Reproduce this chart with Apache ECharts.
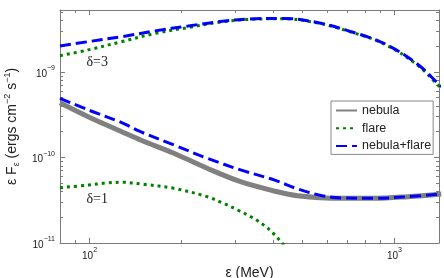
<!DOCTYPE html>
<html><head><meta charset="utf-8">
<script src="https://cdn.jsdelivr.net/npm/echarts@6/dist/echarts.min.js"></script>
<style>html,body{margin:0;padding:0;background:#fff}#c{width:444px;height:278px}</style>
</head><body><div id="c"></div>
<script>
// ---- data (energy in MeV, flux in ergs cm^-2 s^-1) ----
const nebulaE = [80, 99, 128, 147, 189, 243, 313, 403, 481, 668, 858, 1107, 1424];
const nebulaF = [4.37e-10, 3.0e-10, 1.99e-10, 1.6e-10, 1.12e-10, 7.48e-11, 5.21e-11, 4.06e-11, 3.57e-11, 3.33e-11, 3.33e-11, 3.48e-11, 3.74e-11];

const flare1E = [80, 99, 113, 128, 150, 189, 243, 275, 306, 338, 373, 402, 428, 455];
const flare1F = [4.43e-11, 4.76e-11, 5.03e-11, 5.13e-11, 4.86e-11, 4.36e-11, 3.48e-11, 2.91e-11, 2.43e-11, 2.03e-11, 1.62e-11, 1.28e-11, 1.0e-11, 7.8e-12];

const total1E = [80, 99, 128, 147, 189, 243, 313, 403, 481, 574, 668, 858, 1107, 1424];
const total1F = [4.9e-10, 3.6e-10, 2.54e-10, 2.0e-10, 1.4e-10, 9.8e-11, 7.15e-11, 5.46e-11, 4.29e-11, 3.6e-11, 3.36e-11, 3.33e-11, 3.48e-11, 3.74e-11];

const flare3E = [80, 99, 128, 164, 211, 263, 338, 433, 557, 716, 926, 1188, 1396, 1440];
const flare3F = [1.55e-9, 1.81e-9, 2.27e-9, 2.82e-9, 3.31e-9, 3.79e-9, 4.13e-9, 4.19e-9, 3.75e-9, 2.95e-9, 2.12e-9, 1.21e-9, 6.9e-10, 6.3e-10];

const total3E = [80, 99, 128, 164, 211, 263, 338, 433, 557, 716, 926, 1188, 1396, 1440];
const total3F = [2.01e-9, 2.26e-9, 2.59e-9, 3.02e-9, 3.45e-9, 3.85e-9, 4.17e-9, 4.23e-9, 3.79e-9, 2.98e-9, 2.15e-9, 1.24e-9, 7.24e-10, 6.6e-10];

const xMajorTicks = [100, 1000];
const xMinorTicks = [90, 200, 300, 400, 500, 600, 700, 800, 900];
const yMajorTicks = [1e-11, 1e-10, 1e-9];
const yMinorTicks = [2e-11, 3e-11, 4e-11, 5e-11, 6e-11, 7e-11, 8e-11, 9e-11,
                     2e-10, 3e-10, 4e-10, 5e-10, 6e-10, 7e-10, 8e-10, 9e-10,
                     2e-9, 3e-9, 4e-9, 5e-9];
const annotations = [{ name: 'δ=3', coord: [106, 1.31e-9] }, { name: 'δ=1', coord: [106, 3.27e-11] }];

const X_MIN = 80, X_MAX = 1400, Y_MIN = 1e-11, Y_MAX = 5.3e-9;
const AXIS_COLOR = '#7a7a7a';
const TEXT_COLOR = '#222';
const FONT = '"Liberation Sans", Arial, sans-serif';

function zip(a, b) { return a.map((v, i) => [v, b[i]]); }
function sup(v) {
  const e = Math.round(Math.log10(v));
  return '{b|10}{s|' + (e < 0 ? '\u2212' + (-e) : e) + '}';
}
const richLabel = {
  b: { fontSize: 10, fontFamily: FONT, color: TEXT_COLOR, verticalAlign: 'bottom', lineHeight: 14 },
  s: { fontSize: 7, fontFamily: FONT, color: TEXT_COLOR, verticalAlign: 'top', lineHeight: 14 }
};

function axis(kind, position, ticks, len, opts) {
  const isX = kind === 'x';
  return Object.assign({
    type: 'log', logBase: 10, position: position,
    min: isX ? X_MIN : Y_MIN, max: isX ? X_MAX : Y_MAX,
    axisLine: { show: opts.line, onZero: false, lineStyle: { color: AXIS_COLOR, width: 1 } },
    axisTick: { show: true, inside: true, length: len, customValues: ticks, lineStyle: { color: AXIS_COLOR, width: 1 } },
    axisLabel: opts.label ? { show: true, customValues: ticks, formatter: sup, rich: richLabel, margin: isX ? 4 : 5 } : { show: false, customValues: ticks },
    splitLine: { show: false }, minorTick: { show: false }, minorSplitLine: { show: false }
  }, opts.extra || {});
}

const lineBase = { type: 'line', showSymbol: false, symbol: 'none', smooth: 0.35, animation: false, clip: true };

const option = {
  animation: false,
  backgroundColor: '#fff',
  grid: { left: 60, right: 5, top: 10, bottom: 35, containLabel: false, outerBoundsMode: 'none' },
  xAxis: [
    axis('x', 'bottom', xMajorTicks, 5, { line: true, label: true, extra: {
      name: 'ε (MeV)', nameLocation: 'middle', nameGap: 19,
      nameTextStyle: { fontSize: 14, fontFamily: FONT, color: TEXT_COLOR } } }),
    axis('x', 'bottom', xMinorTicks, 3, { line: false, label: false }),
    axis('x', 'top', xMajorTicks, 5, { line: true, label: false }),
    axis('x', 'top', xMinorTicks, 3, { line: false, label: false })
  ],
  yAxis: [
    axis('y', 'left', yMajorTicks, 5, { line: true, label: true, extra: {
      name: 'ε F{sub|ε} (ergs cm{sup|\u22122} s{sup|\u22121})', nameLocation: 'middle', nameGap: 33, nameRotate: 90,
      nameTextStyle: { fontSize: 14, fontFamily: FONT, color: TEXT_COLOR, rich: {
        sub: { fontSize: 9, fontFamily: FONT, color: TEXT_COLOR, verticalAlign: 'bottom', lineHeight: 18 },
        sup: { fontSize: 9, fontFamily: FONT, color: TEXT_COLOR, verticalAlign: 'top', lineHeight: 18 } } } } }),
    axis('y', 'left', yMinorTicks, 3, { line: false, label: false }),
    axis('y', 'right', yMajorTicks, 5, { line: true, label: false }),
    axis('y', 'right', yMinorTicks, 3, { line: false, label: false })
  ],
  legend: {
    data: ['nebula', 'flare', 'nebula+flare'],
    orient: 'vertical', left: 331, top: 101,
    itemWidth: 21, itemHeight: 12, itemGap: 4.7,
    padding: [3, 2, 2, 4],
    itemStyle: { opacity: 0, borderWidth: 0 },
    backgroundColor: '#fff', borderColor: '#888', borderWidth: 1, borderRadius: 0,
    textStyle: { fontSize: 12.5, fontFamily: FONT, color: TEXT_COLOR }
  },
  series: [
    Object.assign({}, lineBase, {
      name: 'nebula', data: zip(nebulaE, nebulaF),
      lineStyle: { color: '#808080', width: 5 }, itemStyle: { color: '#808080' },
      markPoint: {
        symbol: 'circle', symbolSize: 0, animation: false,
        label: { show: true, position: 'inside', formatter: '{b}', fontSize: 14, fontFamily: '"Liberation Serif", "DejaVu Serif", serif', color: TEXT_COLOR },
        data: annotations.map(a => ({ name: a.name, coord: a.coord }))
      }
    }),
    Object.assign({}, lineBase, {
      name: 'flare', data: zip(flare1E, flare1F),
      lineStyle: { color: '#008000', width: 3, type: [3, 4] }, itemStyle: { color: '#008000' }
    }),
    Object.assign({}, lineBase, {
      name: 'flare', data: zip(flare3E, flare3F),
      lineStyle: { color: '#008000', width: 3, type: [3, 4] }, itemStyle: { color: '#008000' }
    }),
    Object.assign({}, lineBase, {
      name: 'nebula+flare', data: zip(total1E, total1F),
      lineStyle: { color: '#0000ff', width: 3, type: [11, 5] }, itemStyle: { color: '#0000ff' }
    }),
    Object.assign({}, lineBase, {
      name: 'nebula+flare', data: zip(total3E, total3F),
      lineStyle: { color: '#0000ff', width: 3, type: [11, 5] }, itemStyle: { color: '#0000ff' }
    })
  ]
};

const chart = echarts.init(document.getElementById('c'), null, { renderer: 'canvas' });
chart.setOption(option);
</script>
</body></html>
